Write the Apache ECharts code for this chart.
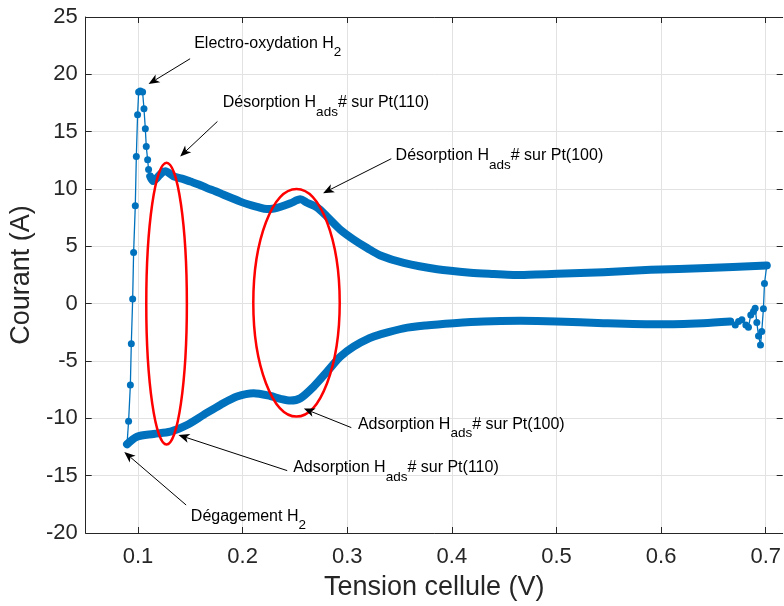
<!DOCTYPE html>
<html><head><meta charset="utf-8">
<script src="https://cdn.jsdelivr.net/npm/echarts/dist/echarts.min.js"></script>
<style>html,body{margin:0;padding:0;background:#fff}#c{width:784px;height:606px}</style>
</head><body><div id="c"></div>
<script>
// ---- data ----
const xTicks = [0.1, 0.2, 0.3, 0.4, 0.5, 0.6, 0.7];
const xTickLabels = ['0.1', '0.2', '0.3', '0.4', '0.5', '0.6', '0.7'];

// anodic branch (dense points)
const upperV = [0.1117,0.1145,0.118,0.122,0.1261,0.134,0.142,0.15,0.158,0.166,0.174,0.1818,0.19,0.1978,0.2058,0.2138,0.2233,0.23,0.2364,0.2457,0.2552,0.2616,0.2711,0.2807,0.2934,0.306,0.319,0.3317,0.354,0.386,0.4177,0.44,0.459,0.48,0.5006,0.545,0.59,0.644,0.701];
const upperI = [11.1,10.7,10.95,11.35,11.55,11.1,10.9,10.65,10.4,10.08,9.8,9.5,9.2,8.9,8.65,8.45,8.25,8.3,8.45,8.75,9.1,8.8,8.4,7.6,6.45,5.6,4.85,4.2,3.55,3.0,2.7,2.58,2.5,2.55,2.6,2.75,2.95,3.1,3.33];

// cathodic branch (dense points)
const lowerV = [0.6661,0.64,0.6,0.545,0.5,0.4655,0.43,0.4017,0.375,0.354,0.3309,0.3213,0.306,0.2934,0.2807,0.2679,0.2552,0.2456,0.2362,0.2265,0.2105,0.1946,0.1787,0.1627,0.1468,0.1309,0.1149,0.099,0.0895];
const lowerI = [-1.56,-1.7,-1.8,-1.7,-1.55,-1.5,-1.55,-1.7,-1.9,-2.15,-2.7,-3.0,-3.74,-4.62,-5.93,-7.23,-8.25,-8.45,-8.3,-8.05,-7.81,-8.1,-8.83,-9.7,-10.58,-11.16,-11.36,-11.6,-12.26];

// sparse points, low-potential end
const leftV = [0.0895,0.091,0.0927,0.0936,0.0949,0.0958,0.0974,0.0984,0.0996,0.1006,0.1022,0.1044,0.1057,0.107,0.1079,0.1092,0.1101,0.1117];
const leftI = [-12.26,-10.25,-7.1,-3.5,0.4,4.46,8.53,12.84,16.47,18.46,18.55,18.46,17.0,15.25,13.7,12.55,11.7,11.1];

// sparse points, high-potential end
const rightV = [0.701,0.6988,0.6978,0.6962,0.695,0.6931,0.6915,0.6899,0.6883,0.6857,0.6835,0.681,0.6772,0.674,0.6709,0.6661];
const rightI = [3.33,1.76,-0.45,-2.43,-3.6,-2.81,-1.65,-0.39,-0.69,-0.98,-2.05,-1.85,-1.41,-1.56,-1.85,-1.56];

// red ellipses (centre and half-axes in data units)
const ellCx = [0.1273, 0.2515];
const ellCy = [0, 0.08];
const ellRx = [0.0194, 0.0413];
const ellRy = [12.29, 9.93];

// annotations
const annMain = ['Electro-oxydation H', 'Désorption H', 'Désorption H', 'Adsorption H', 'Adsorption H', 'Dégagement H'];
const annSub = ['2', 'ads', 'ads', 'ads', 'ads', '2'];
const annRest = ['', '# sur Pt(110)', '# sur Pt(100)', '# sur Pt(100)', '# sur Pt(110)', ''];
const annTextX = [0.1537, 0.181, 0.3462, 0.3102, 0.2483, 0.1505];
const annTextY = [22.23, 17.06, 12.4, -11.01, -14.79, -19.01];
const annTailX = [0.1498, 0.1759, 0.3421, 0.3039, 0.2426, 0.146];
const annTailY = [21.36, 15.89, 12.64, -10.81, -14.56, -17.56];
const annTipX = [0.1101, 0.1403, 0.2769, 0.2585, 0.1387, 0.0869];
const annTipY = [19.15, 12.84, 9.64, -9.15, -11.45, -12.93];

// ---- chart ----
const FONT = '"Liberation Sans", Arial, Helvetica, sans-serif';
const axisColor = '#262626';
const gridColor = '#e2e2e2';
const blue = '#0072BD';
const mctx = document.createElement('canvas').getContext('2d');
function textW(t, size) { mctx.font = size + 'px ' + FONT; return mctx.measureText(t).width; }
const MAIN_FS = 16, SUB_FS = 13.5;
const X_MIN = 0.05, X_MAX = 0.7162;

const pairs = (a, b) => a.map((v, i) => [v, b[i]]);

const chart = echarts.init(document.getElementById('c'));
chart.setOption({
  animation: false,
  backgroundColor: '#ffffff',
  grid: { left: 85, right: 0, top: 17, bottom: 73, containLabel: false },
  xAxis: [{
    type: 'value', min: X_MIN, max: X_MAX, position: 'bottom',
    name: 'Tension cellule (V)', nameLocation: 'middle', nameGap: 41,
    nameTextStyle: { fontFamily: FONT, fontSize: 27, color: axisColor },
    axisLine: { show: true, onZero: false, lineStyle: { color: axisColor, width: 1 } },
    axisTick: { show: true, inside: true, length: 6, customValues: xTicks, lineStyle: { color: axisColor } },
    axisLabel: { customValues: xTicks, margin: 13, fontFamily: FONT, fontSize: 22, color: axisColor,
      formatter: v => { const k = xTicks.findIndex(t => Math.abs(t - v) < 1e-9); return k >= 0 ? xTickLabels[k] : ''; } },
    splitLine: { show: true, lineStyle: { color: gridColor, width: 1 } }
  }, {
    type: 'value', min: X_MIN, max: X_MAX, position: 'top',
    axisLine: { show: true, onZero: false, lineStyle: { color: axisColor, width: 1 } },
    axisTick: { show: true, inside: true, length: 6, customValues: xTicks, lineStyle: { color: axisColor } },
    axisLabel: { show: false, customValues: xTicks },
    splitLine: { show: false }
  }],
  yAxis: [{
    type: 'value', min: -20, max: 25, interval: 5, position: 'left',
    name: 'Courant (A)', nameLocation: 'middle', nameGap: 46,
    nameTextStyle: { fontFamily: FONT, fontSize: 27, color: axisColor },
    axisLine: { show: true, onZero: false, lineStyle: { color: axisColor, width: 1 } },
    axisTick: { show: true, inside: true, length: 6, lineStyle: { color: axisColor } },
    axisLabel: { margin: 8, fontFamily: FONT, fontSize: 22, color: axisColor },
    splitLine: { show: true, lineStyle: { color: gridColor, width: 1 } }
  }, {
    type: 'value', min: -20, max: 25, interval: 5, position: 'right',
    axisLine: { show: false, onZero: false },
    axisTick: { show: true, inside: true, length: 6, lineStyle: { color: axisColor } },
    axisLabel: { show: false },
    splitLine: { show: false }
  }],
  series: [
    { type: 'line', data: pairs(upperV, upperI), showSymbol: false, symbol: 'none', smooth: 0.3,
      lineStyle: { color: blue, width: 8, cap: 'round', join: 'round' }, z: 2 },
    { type: 'line', data: pairs(lowerV, lowerI), showSymbol: false, symbol: 'none', smooth: 0.3,
      lineStyle: { color: blue, width: 8, cap: 'round', join: 'round' }, z: 2 },
    { type: 'line', data: pairs(leftV, leftI), symbol: 'circle', symbolSize: 7, showSymbol: true,
      itemStyle: { color: blue }, lineStyle: { color: blue, width: 1.3 }, z: 3 },
    { type: 'line', data: pairs(rightV, rightI), symbol: 'circle', symbolSize: 7, showSymbol: true,
      itemStyle: { color: blue }, lineStyle: { color: blue, width: 1.3 }, z: 3 },
    { type: 'custom', data: pairs(ellCx, ellCy), z: 5, silent: true,
      renderItem: (params, api) => {
        const i = params.dataIndex;
        const c = api.coord([ellCx[i], ellCy[i]]);
        const s = api.size([ellRx[i], ellRy[i]]);
        return { type: 'ellipse', shape: { cx: c[0], cy: c[1], rx: s[0], ry: s[1] },
          style: { fill: 'none', stroke: '#ff0000', lineWidth: 2.5 } };
      } },
    { type: 'custom', data: pairs(annTextX, annTextY), z: 6, silent: true,
      renderItem: (params, api) => {
        const i = params.dataIndex;
        const tail = api.coord([annTailX[i], annTailY[i]]);
        const tip = api.coord([annTipX[i], annTipY[i]]);
        const pos = api.coord([annTextX[i], annTextY[i]]);
        const dx = tip[0] - tail[0], dy = tip[1] - tail[1];
        const L = Math.hypot(dx, dy), ux = dx / L, uy = dy / L, nx = -uy, ny = ux;
        const hl = 11, hw = 4.5, notch = 3;
        const bx = tip[0] - ux * hl, by = tip[1] - uy * hl;
        const mx = tip[0] - ux * (hl - notch), my = tip[1] - uy * (hl - notch);
        const children = [
          { type: 'line', shape: { x1: tail[0], y1: tail[1], x2: mx, y2: my }, style: { stroke: '#000', lineWidth: 1 } },
          { type: 'polygon', shape: { points: [[tip[0], tip[1]], [bx + nx * hw, by + ny * hw], [mx, my], [bx - nx * hw, by - ny * hw]] },
            style: { fill: '#000' } }
        ];
        const baseMain = pos[1], baseSub = pos[1] + 8.5;
        let x = pos[0];
        const add = (t, fs, base) => {
          if (!t) return;
          children.push({ type: 'text', x: x, y: base - 0.3465 * fs,
            style: { text: t, fontFamily: FONT, fontSize: fs, fill: '#000', align: 'left', verticalAlign: 'middle' } });
          x += textW(t, fs);
        };
        add(annMain[i], MAIN_FS, baseMain);
        add(annSub[i], SUB_FS, baseSub);
        add(annRest[i], MAIN_FS, baseMain);
        return { type: 'group', children: children };
      } }
  ]
});
</script>
</body></html>
